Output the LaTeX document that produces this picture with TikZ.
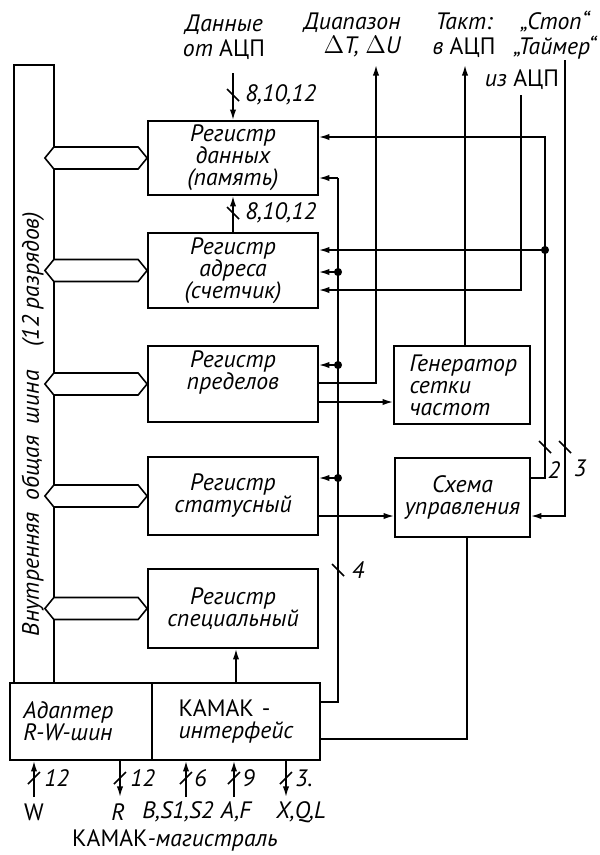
\documentclass[tikz,border=0pt]{standalone}
\usepackage{fontspec}
\setmainfont{PT Sans}
\usetikzlibrary{arrows.meta,calc}

\tikzset{
  txt/.style={font=\fontsize{13.5}{12.5}\selectfont\itshape, inner sep=0pt},
  regbox/.style={txt, draw, line width=1pt, align=center},
  wire/.style={line width=0.9pt},
  sig/.style={wire, -{Latex[length=6pt,width=3.6pt]}},
  busarrow/.style={draw, line width=0.9pt, fill=white},
  dot/.style={circle, fill, inner sep=0pt, minimum size=4.6pt},
  toplbl/.style={font=\fontsize{13.5}{14}\selectfont\itshape, inner sep=0pt},
}
\newcommand{\bustick}[2]{\draw[wire] (#1-6,#2-6) -- (#1+6,#2+6);}
\newcommand{\bottick}[2]{\draw[wire] (#1-6,#2+6) -- (#1+6,#2-6);}

\begin{document}
\begin{tikzpicture}[x=0.2mm, y=-0.2mm]
  \useasboundingbox (0,0) rectangle (600,855);

  % internal bus
  \node[draw, line width=1pt, minimum width=8mm, minimum height=123.6mm] (bus) at (34,374) {};
  \node[txt, rotate=90] (buslbl) at (33,424) {Внутренняя\enspace общая\enspace шина\quad (12 разрядов)};

  % registers
  \node[regbox, minimum width=34mm, minimum height=14.8mm] (data) at (233,158) {Регистр\\данных\\(память)};
  \node[regbox, minimum width=34mm, minimum height=15mm] (addr) at (233,270.5) {Регистр\\адреса\\(счетчик)};
  \node[regbox, minimum width=34mm, minimum height=15.2mm] (lim) at (233,384) {Регистр\\пределов\\\strut};
  \node[regbox, minimum width=34mm, minimum height=15.6mm] (stat) at (233,496) {Регистр\\статусный};
  \node[regbox, minimum width=34mm, minimum height=15.8mm] (spec) at (233,608.5) {Регистр\\специальный};
  \node[regbox, align=left, text width=21mm, minimum width=27.2mm, minimum height=15.6mm] (gen) at (462,385) {Генератор\\сетки\\частот};
  \node[regbox, minimum width=27mm, minimum height=15.8mm] (ctrl) at (462.5,497.5) {Схема\\управления};
  \node[regbox, align=left, text width=23mm, minimum width=28.4mm, minimum height=15.4mm] (adapter) at (81,721.5) {Адаптер\\R-W-шин};
  \node[regbox, align=left, text width=23mm, minimum width=33.6mm, minimum height=15.4mm] (kamak) at (236,721.5) {{\upshape КАМАК -}\\интерфейс};

  \foreach \r in {data,addr,lim,stat,spec}
    \draw[busarrow] ($(bus.east |- \r.west)+(-10,0)$) -- ++(9,-11) -- ($(\r.west)+(-9,-11)$)
      -- (\r.west) -- ++(-9,11) -- ($(bus.east |- \r.west)+(-1,11)$) -- cycle;

  % top labels
  \node[toplbl, align=center] (din) at (224,37) {Данные\\от {\upshape АЦП}};
  \node[toplbl, align=right, anchor=east] (rng) at (401,35) {Диапазон\\$\Delta$\textit{T}, $\Delta$\textit{U}};
  \node[toplbl, align=center] (clk) at (464,35) {Такт:\\в {\upshape АЦП}};
  \node[toplbl, align=center] (stop) at (555,35) {„Стоп“\\„Таймер“};
  \node[toplbl] (fromadc) at (522,80) {из {\upshape АЦП}};

  \coordinate (dintop) at (233,73);
  \coordinate (rngtop) at (376,65);
  \coordinate (clktop) at (465,65);
  \coordinate (adctop) at (521,95);
  \coordinate (stoptop) at (565,60);

  % data path
  \draw[sig] (dintop) -- (data.north);
  \bustick{233}{95}
  \node[txt, anchor=west] at (245,95) {8,10,12};
  \draw[sig] (addr.north) -- (data.south);
  \bustick{233}{213}
  \node[txt, anchor=west] at (245,213) {8,10,12};

  % control from right side
  \draw[sig] (ctrl.east |- 0,478) -- (545,478) -- (545,137) -- (data.east |- 0,137);
  \draw[sig] (545,250) -- (addr.east |- 0,250);
  \node[dot] at (545,250) {};
  \draw[sig] (adctop) -- (521,290) -- (addr.east |- 0,290);
  \draw[sig] (stoptop) -- (565,516) -- (ctrl.east |- 0,516);
  \bustick{545}{447}
  \bustick{565}{447}
  \node[txt] at (554,470) {2};
  \node[txt] at (580,468) {3};

  % outputs
  \draw[sig] (lim.east |- 0,383) -- (376,383) -- (rngtop);
  \draw[sig] (gen.north -| clktop) -- (clktop);
  \draw[sig] (lim.east |- 0,402) -- (gen.west |- 0,402);
  \draw[sig] (stat.east |- 0,516) -- (ctrl.west |- 0,516);

  % 4-line from KAMAK
  \draw[wire] (kamak.east |- 0,702) -- (338,702) -- (338,178);
  \draw[sig] (338,178) -- (data.east |- 0,178);
  \foreach \y/\r in {272/addr,365/lim,478/stat} {
    \draw[sig] (338,\y) -- (\r.east |- 0,\y);
    \node[dot] at (338,\y) {};
  }
  \bustick{338}{570}
  \node[txt] at (358,570) {4};

  \draw[wire] (ctrl.south -| 467,0) -- (467,739) -- (kamak.east |- 0,739);
  \draw[sig] (kamak.north) -- (kamak.north |- spec.south);

  % KAMAK highway
  \draw[sig] (34,797) -- (adapter.south -| 34,0);
  \bottick{34}{778}
  \node[txt, anchor=west] at (44,778) {12};
  \draw[sig] (adapter.south -| 120,0) -- (120,797);
  \bottick{120}{778}
  \node[txt, anchor=west] at (130,778) {12};
  \draw[sig] (186,797) -- (kamak.south -| 186,0);
  \bottick{186}{778}
  \node[txt, anchor=west] at (194,778) {6};
  \draw[sig] (234,797) -- (kamak.south -| 234,0);
  \bottick{234}{778}
  \node[txt, anchor=west] at (242,778) {9};
  \draw[sig] (kamak.south -| 286,0) -- (286,797);
  \bottick{286}{778}
  \node[txt, anchor=west] at (295,778) {3.};

  \node[txt] at (34,812) {\upshape W};
  \node[txt] at (118,812) {R};
  \node[txt] at (178,812) {B,S1,S2};
  \node[txt] at (236,812) {A,F};
  \node[txt] at (301,812) {X,Q,L};
  \node[txt] at (175,840) {{\upshape КАМАК}-магистраль};
\end{tikzpicture}
\end{document}
